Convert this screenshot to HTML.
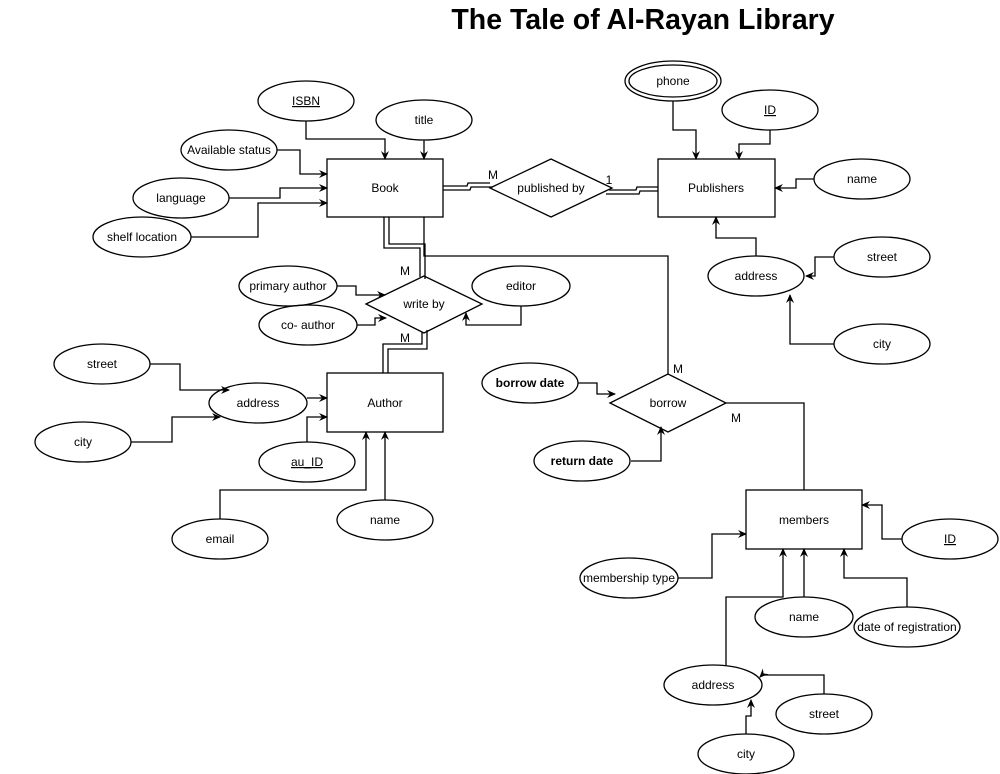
<!DOCTYPE html>
<html><head><style>body{margin:0;background:#fff}svg{display:block}text{font-family:"Liberation Sans",Arial,sans-serif;font-size:12px;fill:#000}</style></head>
<body>
<svg width="1000" height="774" viewBox="0 0 1000 774" xmlns="http://www.w3.org/2000/svg">
<defs><marker id="a" markerWidth="10" markerHeight="10" refX="8" refY="5" orient="auto" markerUnits="userSpaceOnUse"><path d="M0,1 L9,5 L0,9 L3,5 Z" fill="#000"/></marker></defs>
<text x="643" y="29" text-anchor="middle" style="font-size:28.5px;font-weight:bold">The Tale of Al-Rayan Library</text>
<g fill="none" stroke="#000" stroke-width="1.3">
<rect x="327" y="159" width="116" height="58"/><rect x="658" y="159" width="117" height="58"/>
<rect x="327" y="373" width="116" height="59"/><rect x="746" y="490" width="116" height="59"/>
<path d="M490,188 L551,159 L612,188 L551,217 Z"/><path d="M366,304 L424,276 L482,304 L424,333 Z"/><path d="M610,403 L668,374 L726,403 L668,432 Z"/>
<ellipse cx="306" cy="101" rx="48" ry="20"/><ellipse cx="424" cy="120" rx="48" ry="20"/><ellipse cx="229" cy="150" rx="48" ry="20"/>
<ellipse cx="181" cy="198" rx="48" ry="20"/><ellipse cx="142" cy="237" rx="49" ry="20"/>
<ellipse cx="673" cy="81" rx="48" ry="20"/><ellipse cx="673" cy="81" rx="44" ry="16"/>
<ellipse cx="770" cy="110" rx="48" ry="20"/><ellipse cx="862" cy="179" rx="48" ry="20"/><ellipse cx="756" cy="276" rx="48" ry="20"/>
<ellipse cx="882" cy="257" rx="48" ry="20"/><ellipse cx="882" cy="344" rx="48" ry="20"/>
<ellipse cx="288" cy="286" rx="49" ry="20"/><ellipse cx="308" cy="325" rx="49" ry="20"/><ellipse cx="521" cy="286" rx="49" ry="20"/>
<ellipse cx="102" cy="364" rx="48" ry="20"/><ellipse cx="258" cy="403" rx="49" ry="20"/><ellipse cx="83" cy="442" rx="48" ry="20"/>
<ellipse cx="307" cy="462" rx="48" ry="20"/><ellipse cx="220" cy="539" rx="48" ry="20"/><ellipse cx="385" cy="520" rx="48" ry="20"/>
<ellipse cx="530" cy="383" rx="48" ry="20"/><ellipse cx="582" cy="461" rx="48" ry="20"/>
<ellipse cx="950" cy="539" rx="48" ry="20"/><ellipse cx="629" cy="578" rx="49" ry="20"/><ellipse cx="804" cy="617" rx="49" ry="20"/>
<ellipse cx="907" cy="627" rx="53" ry="20"/><ellipse cx="713" cy="685" rx="49" ry="20"/><ellipse cx="824" cy="714" rx="48" ry="20"/><ellipse cx="746" cy="754" rx="48" ry="20"/>
</g>
<g fill="none" stroke="#000" stroke-width="1.3">
<polyline points="306,121 306,139 385,139 385,159" marker-end="url(#a)"/>
<polyline points="424,140 424,159" marker-end="url(#a)"/>
<polyline points="277,150 300,150 300,174 327,174" marker-end="url(#a)"/>
<polyline points="229,198 280,198 280,188 327,188" marker-end="url(#a)"/>
<polyline points="191,237 258,237 258,203 327,203" marker-end="url(#a)"/>
<polyline points="443,186 467,186 468,183 490,183"/><polyline points="443,190 470,190 471,187 493,187"/>
<polyline points="609,190 636,190 637,187 658,187"/><polyline points="606,194 639,194 640,191 658,191"/>
<polyline points="673,101 673,130 696,130 696,159" marker-end="url(#a)"/>
<polyline points="770,130 770,144 739,144 739,159" marker-end="url(#a)"/>
<polyline points="814,179 796,179 796,188 775,188" marker-end="url(#a)"/>
<polyline points="756,256 756,238 716,238 716,217" marker-end="url(#a)"/>
<polyline points="834,257 815,257 815,276 806,276" marker-end="url(#a)"/>
<polyline points="834,344 790,344 790,295" marker-end="url(#a)"/>
<polyline points="384,217 384,248 420,248 420,277"/><polyline points="389,217 389,244 425,244 425,279"/>
<polyline points="424,217 424,256 668,256 668,374"/>
<polyline points="337,286 356,286 356,295 385,295" marker-end="url(#a)"/>
<polyline points="357,325 375,325 375,318 386,318" marker-end="url(#a)"/>
<polyline points="521,306 521,325 466,325 466,313" marker-end="url(#a)"/>
<polyline points="422,332 422,344 383,344 383,373"/><polyline points="427,330 427,349 388,349 388,373"/>
<polyline points="150,364 180,364 180,390 229,390" marker-end="url(#a)"/>
<polyline points="131,442 172,442 172,417 220,417" marker-end="url(#a)"/>
<polyline points="307,398 327,398" marker-end="url(#a)"/>
<polyline points="307,442 307,417 327,417" marker-end="url(#a)"/>
<polyline points="220,519 220,490 366,490 366,432" marker-end="url(#a)"/>
<polyline points="385,500 385,432" marker-end="url(#a)"/>
<polyline points="578,383 597,383 597,394 615,394" marker-end="url(#a)"/>
<polyline points="631,461 661,461 661,427" marker-end="url(#a)"/>
<polyline points="726,403 804,403 804,490"/>
<polyline points="678,578 712,578 712,534 746,534" marker-end="url(#a)"/>
<polyline points="902,539 882,539 882,505 862,505" marker-end="url(#a)"/>
<polyline points="804,597 804,549" marker-end="url(#a)"/>
<polyline points="726,665 726,597 783,597 783,549" marker-end="url(#a)"/>
<polyline points="907,607 907,578 844,578 844,549" marker-end="url(#a)"/>
<polyline points="824,694 824,675 762,675 760,677" marker-end="url(#a)"/>
<polyline points="746,734 746,716 751,716 751,700" marker-end="url(#a)"/>
</g>
<g text-anchor="middle">
<text x="385" y="192">Book</text><text x="716" y="192">Publishers</text><text x="385" y="407">Author</text><text x="804" y="524">members</text>
<text x="551" y="192">published by</text><text x="424" y="308">write by</text><text x="668" y="407">borrow</text>
<text x="306" y="105" text-decoration="underline">ISBN</text><text x="424" y="124">title</text><text x="229" y="154">Available status</text>
<text x="181" y="202">language</text><text x="142" y="241">shelf location</text><text x="673" y="85">phone</text>
<text x="770" y="114" text-decoration="underline">ID</text><text x="862" y="183">name</text><text x="756" y="280">address</text>
<text x="882" y="261">street</text><text x="882" y="348">city</text><text x="288" y="290">primary author</text><text x="308" y="329">co- author</text>
<text x="521" y="290">editor</text><text x="102" y="368">street</text><text x="258" y="407">address</text><text x="83" y="446">city</text>
<text x="307" y="466" text-decoration="underline">au_ID</text><text x="220" y="543">email</text><text x="385" y="524">name</text>
<text x="530" y="387" style="font-weight:bold">borrow date</text><text x="582" y="465" style="font-weight:bold">return date</text>
<text x="950" y="543" text-decoration="underline">ID</text><text x="629" y="582">membership type</text><text x="804" y="621">name</text>
<text x="907" y="631">date of registration</text><text x="713" y="689">address</text><text x="824" y="718">street</text><text x="746" y="758">city</text>
<text x="493" y="179">M</text><text x="609" y="184">1</text><text x="405" y="275">M</text><text x="405" y="342">M</text><text x="678" y="373">M</text><text x="736" y="422">M</text>
</g>
</svg>
</body></html>
